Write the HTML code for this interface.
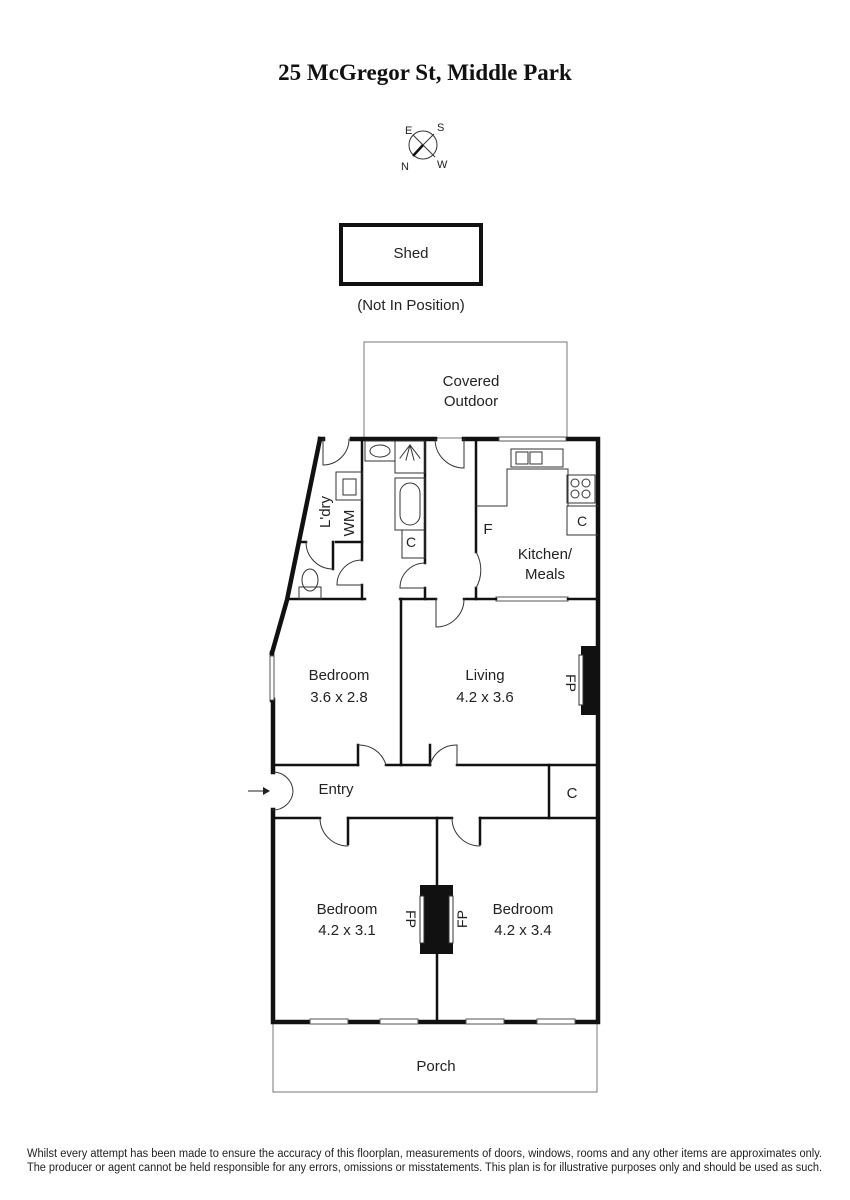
<!DOCTYPE html>
<html><head><meta charset="utf-8"><style>
html,body{margin:0;padding:0;background:#fff;}
svg{display:block;}
text{font-family:"Liberation Sans",sans-serif;fill:#222;}
</style></head><body>
<svg width="850" height="1200" viewBox="0 0 850 1200" xmlns="http://www.w3.org/2000/svg">
<text x="425" y="80" text-anchor="middle" style="font-family:'Liberation Serif',serif;font-weight:bold;font-size:23px;fill:#111">25 McGregor St, Middle Park</text>
<!-- compass -->
<circle cx="423" cy="145" r="14" fill="none" stroke="#333" stroke-width="1"/>
<line x1="413" y1="135" x2="435" y2="157" stroke="#333" stroke-width="1"/>
<line x1="434" y1="134" x2="423" y2="145" stroke="#333" stroke-width="1"/>
<line x1="423" y1="145" x2="413" y2="156" stroke="#111" stroke-width="2.5"/>
<text x="405" y="134" font-size="11">E</text>
<text x="437" y="131" font-size="11">S</text>
<text x="401" y="170" font-size="11">N</text>
<text x="437" y="168" font-size="11">W</text>
<!-- shed -->
<rect x="341" y="225" width="140" height="59" fill="none" stroke="#111" stroke-width="4"/>
<text x="411" y="258" text-anchor="middle" font-size="15">Shed</text>
<text x="411" y="310" text-anchor="middle" font-size="15">(Not In Position)</text>
<!-- covered outdoor -->
<rect x="364" y="342" width="203" height="96" fill="none" stroke="#777" stroke-width="1"/>
<text x="471" y="386" text-anchor="middle" font-size="15">Covered</text>
<text x="471" y="406" text-anchor="middle" font-size="15">Outdoor</text>
<!-- porch -->
<rect x="273" y="1022" width="324" height="70" fill="none" stroke="#777" stroke-width="1"/>
<text x="436" y="1071" text-anchor="middle" font-size="15">Porch</text>
<g stroke="#111" fill="none" stroke-linecap="square">
<!-- outer walls -->
<path d="M320 439 H323 M352 439 H435 M464 439 H499 M566 439 H598 V1022 H273 V810 M273 772 V700" stroke-width="4.5"/>
<path d="M272 653 L287 600 L320 439" stroke-width="4.5"/>
<line x1="272" y1="653" x2="272" y2="700" stroke-width="4.5"/>
<!-- windows -->
<g stroke="#555" stroke-width="1">
<rect x="499" y="437" width="67" height="4" fill="#fff"/>
<rect x="270" y="656" width="4" height="44" fill="#fff"/>
<rect x="310" y="1019" width="38" height="5" fill="#fff"/>
<rect x="380" y="1019" width="38" height="5" fill="#fff"/>
<rect x="466" y="1019" width="38" height="5" fill="#fff"/>
<rect x="537" y="1019" width="38" height="5" fill="#fff"/>
<rect x="496" y="597" width="72" height="4" fill="#fff"/>
</g>
<!-- interior walls -->
<g stroke-width="2.5">
<path d="M287 599 H365 M400 599 H436 M464 599 H496 M568 599 H598"/>
<path d="M362 439 V560 M362 585 V599"/>
<path d="M425 439 V563 M425 588 V599"/>
<path d="M476 439 V552 M476 588 V599"/>
<path d="M401 599 V765"/>
<path d="M273 765 H358 M386 765 H430 M457 765 H598"/>
<path d="M273 818 H320 M348 818 H452 M480 818 H598"/>
<path d="M437 818 V1022"/>
<path d="M358 765 V745 M430 765 V745"/>
<path d="M348 818 V844 M480 818 V844"/>
<path d="M549 765 V818"/>
<path d="M298 542 H306 M333 542 V569"/>
<path d="M336 542 H362"/>
</g>
<!-- door arcs -->
<g stroke-width="1" stroke="#333">
<path d="M323 439 V465 A26 26 0 0 0 349 439"/>
<path d="M435 439 A29 29 0 0 0 464 468 V439"/>
<path d="M358 745 A28 28 0 0 1 386 765"/>
<path d="M430 765 A27 27 0 0 1 457 745 V765"/>
<path d="M320 818 A28 28 0 0 0 348 846"/>
<path d="M452 818 A28 28 0 0 0 480 846"/>
<path d="M436 599 V627 A28 28 0 0 0 464 599"/>
<path d="M476 552 A36 36 0 0 1 476 588"/>
<path d="M273 772 A20 20 0 0 1 293 792 A20 20 0 0 1 273 810"/>
<path d="M362 560 A25 25 0 0 0 337 585 H362"/>
<path d="M425 563 A25 25 0 0 0 400 588 H425"/>
<path d="M306 542 A27 27 0 0 0 333 569"/>
</g>
<!-- fixtures -->
<g stroke-width="1" stroke="#333">
<rect x="336" y="472" width="26" height="28"/><rect x="343" y="479" width="13" height="16"/>
<rect x="365" y="441" width="30" height="20"/><ellipse cx="380" cy="451" rx="10" ry="6"/>
<rect x="395" y="441" width="30" height="32"/>
<path d="M410 445 L400 458 M410 445 L406 460 M410 445 L414 460 M410 445 L420 458"/>
<rect x="395" y="478" width="30" height="52"/><rect x="400" y="483" width="20" height="42" rx="10"/>
<rect x="402" y="530" width="23" height="28"/>
<rect x="511" y="449" width="52" height="18"/><rect x="516" y="452" width="12" height="12"/><rect x="530" y="452" width="12" height="12"/>
<path d="M476 506 H507 V469 H568 V506 H598"/>
<rect x="567" y="475" width="28" height="28"/>
<circle cx="575" cy="483" r="4"/><circle cx="586" cy="483" r="4"/><circle cx="575" cy="494" r="4"/><circle cx="586" cy="494" r="4"/>
<path d="M567 506 V535 H598"/>
<rect x="299" y="587" width="22" height="12"/><ellipse cx="310" cy="580" rx="8" ry="11"/>
</g>
<!-- fireplaces -->
<rect x="581" y="646" width="17" height="69" fill="#111" stroke="none"/>
<rect x="579" y="655" width="4" height="50" fill="#fff" stroke="#333" stroke-width="1"/>
<rect x="420" y="885" width="33" height="69" fill="#111" stroke="none"/>
<rect x="420" y="896" width="4" height="47" fill="#fff" stroke="#333" stroke-width="1"/>
<rect x="449" y="896" width="4" height="47" fill="#fff" stroke="#333" stroke-width="1"/>
</g>
<!-- entry arrow -->
<line x1="248" y1="791" x2="268" y2="791" stroke="#222" stroke-width="1"/>
<path d="M270 791 L263 787 L263 795 Z" fill="#222"/>
<!-- labels -->
<g font-size="15">
<text x="411" y="547" text-anchor="middle" font-size="14">C</text>
<text x="582" y="526" text-anchor="middle" font-size="14">C</text>
<text x="488" y="534" text-anchor="middle">F</text>
<text x="545" y="559" text-anchor="middle">Kitchen/</text>
<text x="545" y="579" text-anchor="middle">Meals</text>
<text transform="translate(330,512) rotate(-90)" text-anchor="middle">L'dry</text>
<text transform="translate(354,523) rotate(-90)" text-anchor="middle">WM</text>
<text x="339" y="680" text-anchor="middle">Bedroom</text>
<text x="339" y="702" text-anchor="middle">3.6 x 2.8</text>
<text x="485" y="680" text-anchor="middle">Living</text>
<text x="485" y="702" text-anchor="middle">4.2 x 3.6</text>
<text transform="translate(566,683) rotate(90)" text-anchor="middle" font-size="14">FP</text>
<text x="336" y="794" text-anchor="middle">Entry</text>
<text x="572" y="798" text-anchor="middle">C</text>
<text x="347" y="914" text-anchor="middle">Bedroom</text>
<text x="347" y="935" text-anchor="middle">4.2 x 3.1</text>
<text x="523" y="914" text-anchor="middle">Bedroom</text>
<text x="523" y="935" text-anchor="middle">4.2 x 3.4</text>
<text transform="translate(406,919) rotate(90)" text-anchor="middle" font-size="14">FP</text>
<text transform="translate(467,919) rotate(-90)" text-anchor="middle" font-size="14">FP</text>
</g>
<text x="27" y="1157" font-size="11.5" textLength="795" lengthAdjust="spacingAndGlyphs">Whilst every attempt has been made to ensure the accuracy of this floorplan, measurements of doors, windows, rooms and any other items are approximates only.</text>
<text x="27" y="1171" font-size="11.5" textLength="795" lengthAdjust="spacingAndGlyphs">The producer or agent cannot be held responsible for any errors, omissions or misstatements. This plan is for illustrative purposes only and should be used as such.</text>
</svg>
</body></html>
